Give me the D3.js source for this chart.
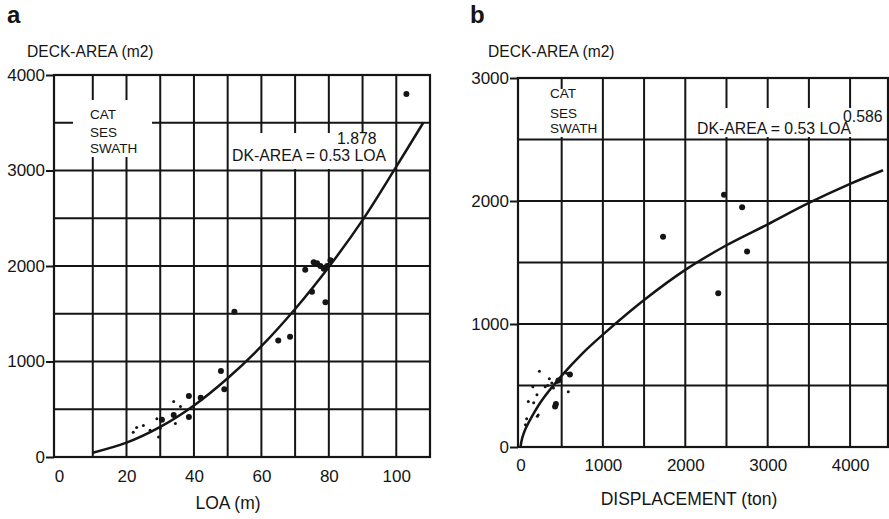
<!DOCTYPE html>
<html>
<head>
<meta charset="utf-8">
<script src="https://cdn.jsdelivr.net/npm/d3@7"></script>
<style>
  body { margin: 0; background: #fff; }
  text { font-family: "Liberation Sans", Arial, sans-serif; fill: #151515; }
</style>
</head>
<body>
<svg width="889" height="519"></svg>
<script>
// ---- panel a : deck area against length (LOA) ----
var loaTicks = [0, 20, 40, 60, 80, 100];
var loaGrid = [10, 20, 30, 40, 50, 60, 70, 80, 90, 100];
var areaTicksA = [0, 1000, 2000, 3000, 4000];
var areaGridA = [500, 1000, 1500, 2000, 2500, 3000, 3500];

// bigger dots
var loaBig = [103, 73, 75.5, 76.5, 77.5, 78.5, 79.5, 80.5, 75, 79, 52, 65, 68.5, 48, 49, 38.5, 42, 38.5, 30.5, 34];
var areaBigA = [3800, 1960, 2040, 2030, 2000, 1970, 2000, 2060, 1730, 1620, 1520, 1220, 1260, 900, 710, 640, 620, 420, 390, 440];
// small dots
var loaSmall = [34, 36, 34.5, 29, 29.5, 27, 25, 23, 22, 30];
var areaSmallA = [580, 530, 350, 400, 210, 280, 330, 310, 260, 300];

// fitted curve
var loaFit = [10, 20, 30, 40, 50, 60, 70, 80, 90, 100, 108];
var areaFitA = [45, 150, 315, 540, 825, 1160, 1550, 1990, 2480, 3040, 3500];

// ---- panel b : deck area against displacement ----
var dispTicks = [0, 1000, 2000, 3000, 4000];
var dispGrid = [500, 1000, 1500, 2000, 2500, 3000, 3500, 4000];
var areaTicksB = [0, 1000, 2000, 3000];
var areaGridB = [500, 1000, 1500, 2000, 2500];

var dispBig = [2470, 2690, 1730, 2750, 2400, 460, 420, 430, 600];
var areaBigB = [2050, 1950, 1710, 1590, 1250, 540, 330, 350, 590];
var dispSmall = [230, 350, 560, 580, 440, 300, 400, 150, 200, 95, 160, 215, 205, 75, 60, 330, 380];
var areaSmallB = [615, 555, 600, 450, 525, 490, 480, 490, 425, 370, 360, 260, 250, 230, 180, 500, 520];

var dispFit = [0, 20, 50, 100, 250, 500, 750, 1000, 1500, 2000, 2500, 3000, 3500, 4000, 4400];
var areaFitB = [0, 70, 130, 200, 370, 580, 760, 914, 1195, 1440, 1640, 1810, 1984, 2139, 2250];

var svg = d3.select("svg");
var ink = "#151515";

function drawPanel(p) {
    var g = svg.append("g");
    var x = d3.scaleLinear().domain(p.xDomain).range(p.xRange);
    var y = d3.scaleLinear().domain(p.yDomain).range(p.yRange);

    //grid
    g.selectAll(".vg").data(p.xGrid).enter().append("line")
        .attr("x1", d => x(d)).attr("x2", d => x(d))
        .attr("y1", p.yRange[0]).attr("y2", p.yRange[1])
        .attr("stroke", ink).attr("stroke-width", 2);
    g.selectAll(".hg").data(p.yGrid).enter().append("line")
        .attr("x1", p.xRange[0]).attr("x2", p.xRange[1])
        .attr("y1", d => y(d)).attr("y2", d => y(d))
        .attr("stroke", ink).attr("stroke-width", 2);

    //white boxes behind the notes cut the grid like in the print
    p.boxes.forEach(function (b) {
        g.append("rect").attr("x", b[0]).attr("y", b[1])
            .attr("width", b[2]).attr("height", b[3]).attr("fill", "#fff");
    });

    //frame
    g.append("rect")
        .attr("x", p.xRange[0]).attr("y", p.yRange[1])
        .attr("width", p.xRange[1] - p.xRange[0])
        .attr("height", p.yRange[0] - p.yRange[1])
        .attr("fill", "none").attr("stroke", ink).attr("stroke-width", 2.2);

    //axes
    var ya = g.append("g")
        .attr("transform", "translate(" + p.xRange[0] + ",0)")
        .call(d3.axisLeft(y).tickValues(p.yTicks).tickSize(8).tickSizeOuter(0).tickPadding(1).tickFormat(d3.format("d")));
    ya.select(".domain").remove();
    ya.selectAll("line").attr("stroke", ink).attr("stroke-width", 2);
    ya.selectAll("text").style("font-size", "17px").attr("fill", ink);

    var xa = g.append("g")
        .attr("transform", "translate(0," + p.yRange[0] + ")")
        .call(d3.axisBottom(x).tickValues(p.xTicks).tickSize(0).tickPadding(p.xPad).tickFormat(d3.format("d")));
    xa.select(".domain").remove();
    xa.selectAll("text").style("font-size", "17px").attr("fill", ink);

    //fitted curve
    var line = d3.line()
        .x(d => x(d[0])).y(d => y(d[1]))
        .curve(d3.curveCatmullRom);
    g.append("path")
        .datum(d3.zip(p.fitX, p.fitY))
        .attr("d", line)
        .attr("fill", "none").attr("stroke", ink).attr("stroke-width", 2.5);

    //points
    g.selectAll(".big").data(d3.zip(p.bigX, p.bigY)).enter().append("circle")
        .attr("cx", d => x(d[0])).attr("cy", d => y(d[1])).attr("r", 3)
        .attr("fill", ink);
    g.selectAll(".small").data(d3.zip(p.smallX, p.smallY)).enter().append("circle")
        .attr("cx", d => x(d[0])).attr("cy", d => y(d[1])).attr("r", 1.5)
        .attr("fill", ink);

    //texts
    p.notes.forEach(function (t) {
        g.append("text").attr("x", t[0]).attr("y", t[1])
            .style("font-size", t[3] + "px")
            .style("font-weight", t[4] || "normal")
            .style("text-anchor", t[5] || "start")
            .text(t[2]);
    });
}

drawPanel({
    xDomain: [-1.5, 110], xRange: [54, 430],
    yDomain: [0, 4000], yRange: [457, 75],
    xGrid: loaGrid, yGrid: areaGridA,
    xTicks: loaTicks, yTicks: areaTicksA, xPad: 13,
    fitX: loaFit, fitY: areaFitA,
    bigX: loaBig, bigY: areaBigA, smallX: loaSmall, smallY: areaSmallA,
    boxes: [[73, 100, 79, 57], [230, 133, 159, 36]],
    notes: [
        [7, 23, "a", 24, "bold"],
        [27, 57, "DECK-AREA (m2)", 15.6],
        [90, 119, "CAT", 13.5],
        [90, 137, "SES", 13.5],
        [90, 153, "SWATH", 13.5],
        [337, 144, "1.878", 15.8],
        [232, 161, "DK-AREA = 0.53 LOA", 15.8],
        [228, 509, "LOA (m)", 17.5, "normal", "middle"]
    ]
});

drawPanel({
    xDomain: [-30, 4460], xRange: [518, 888],
    yDomain: [0, 3000], yRange: [447, 78],
    xGrid: dispGrid, yGrid: areaGridB,
    xTicks: dispTicks, yTicks: areaTicksB, xPad: 12,
    fitX: dispFit, fitY: areaFitB,
    bigX: dispBig, bigY: areaBigB, smallX: dispSmall, smallY: areaSmallB,
    boxes: [[528, 89, 71, 48], [692, 108, 195, 29]],
    notes: [
        [470, 23, "b", 24, "bold"],
        [488, 57, "DECK-AREA (m2)", 15.6],
        [550, 98, "CAT", 13.5],
        [550, 118, "SES", 13.5],
        [550, 133, "SWATH", 13.5],
        [843, 122, "0.586", 15.8],
        [697, 134, "DK-AREA = 0.53 LOA", 15.8],
        [689, 505, "DISPLACEMENT (ton)", 17.5, "normal", "middle"]
    ]
});
</script>
</body>
</html>
